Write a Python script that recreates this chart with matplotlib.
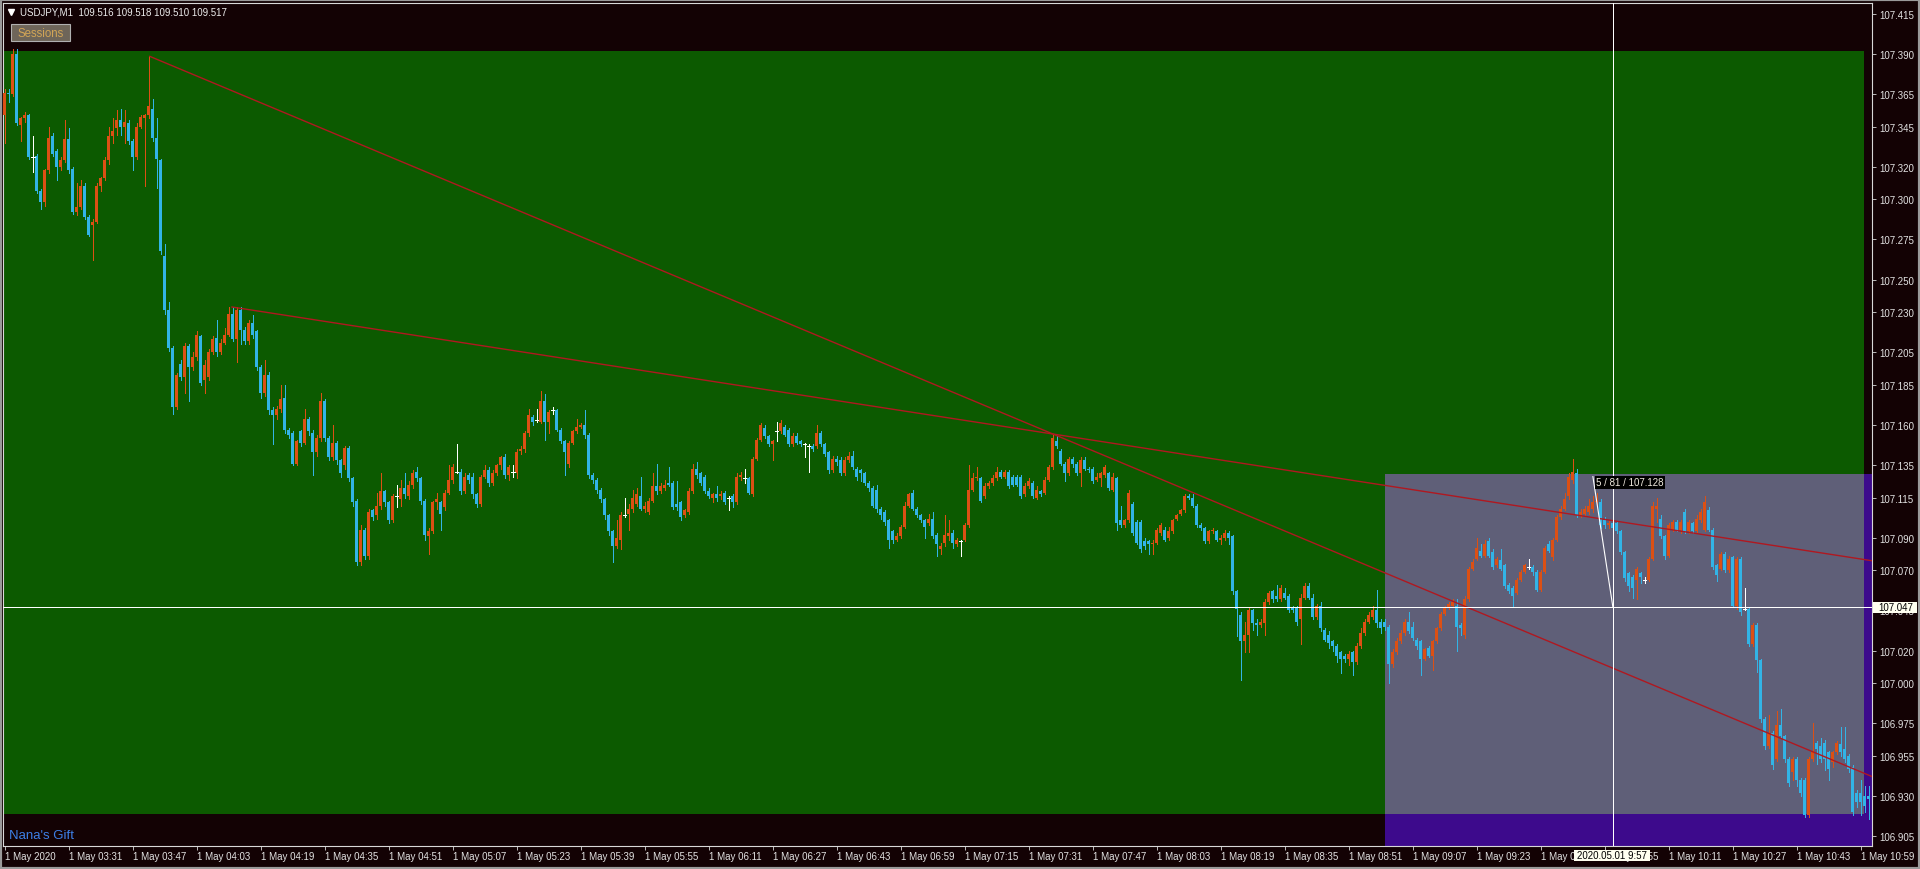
import matplotlib
matplotlib.use("Agg")
import matplotlib.pyplot as plt
from matplotlib.patches import Rectangle
from matplotlib.lines import Line2D
from matplotlib.transforms import blended_transform_factory
import numpy as np

plt.rcParams['font.family'] = ['Liberation Sans', 'DejaVu Sans']

# ---------------- data ----------------
header_text = "USDJPY,M1  109.516 109.518 109.510 109.517"
price_base = 107.0
point = 0.001

# OHLC of the M1 bars, in points above 107.000 (bar 0 = 1 May 03:15)
opens = [
 352,366,365,390,346,350,352,326,327,305, 298,318,339,330,320,324,337,319,292,295,
 308,289,284,286,308,313,324,339,344,349, 345,347,336,326,345,350,352,356,338,324,
 265,231,208,171,198,190,209,196,202,215, 188,190,205,214,205,211,216,229,213,231,
 219,212,223,218,196,180,191,169,166,170, 177,157,155,136,156,149,164,155,143,152,
 175,152,140,149,138,135,146,127,113,75, 95,79,107,104,110,119,112,101,116,114,
 121,116,123,131,127,113,91,94,112,112, 109,118,126,131,131,119,129,128,117,111,
 128,132,124,130,135,140,129,131,130,144, 145,155,165,163,162,175,162,169,169,157,
 150,136,149,156,159,160,154,129,126,120, 114,104,94,85,
 89,104,105,108,111,116,108,106,113,122, 119,121,124,124,111,112,104,106,119,133,
 130,128,119,115,117,116,118,115,116,112, 128,127,127,117,139,151,158,153,148,156,
 156,159,157,148,153,150,148,147,147,147, 155,148,143,132,139,138,130,138,141,133,
 132,130,124,121,120,108,106,101,94,89, 91,97,110,118,108,104,101,99,102,92,
 83,87,91,93,86,88,89,98,120,127, 127,116,122,124,127,131,128,131,128,128,
 128,117,122,124,115,119,118,126,134,150, 144,136,130,139,136,130,138,133,133,126,
 127,129,130,120,127,101,98,101,111,100, 100,88,88,86,87,93,95,90,94,102,
 105,107,116,115,110,98,96,88,94,94, 89,90,93,91,57,
 42,26,30,45,37,36,37,50,57,54, 52,56,54,47,47,40,53,60,53,41,
 48,33,30,26,23,19,17,15,19,13, 23,31,38,41,45,38,38,35,12,19,
 26,31,38,35,27,26,15,22,17,26, 34,43,47,48,48,36,30,52,71,77,
 82,79,88,81,73,76,73,61,59,56, 64,69,72,72,69,58,69,86,78,89,
 103,108,116,126,130,104,105,106,108,112, 112,101,98,99,99,94,81,68,66,64,
 68,64,64,77,108,102,91,79,95,100, 95,106,94,99,94,101,95,107,95,73,
 71,80,70,78,48,77,46,46,24,36, 14,-22,-39,-31,-47,-26,-33,-47,-55,-47,
 -60,-60,-82,-47,-37,-39,-37,-43,-49,-43, -38,-41,-45,-52,-68,-68,-70,-70]
highs = [
 368,368,393,393,351,354,353,339,328,306, 319,345,341,331,326,349,344,320,310,312,
 310,290,288,310,314,326,345,350,355,356, 355,349,337,347,352,353,389,362,350,325,
 272,236,209,192,200,211,210,205,218,216, 200,207,215,225,213,220,233,233,233,233,
 221,225,228,219,197,200,193,171,172,185, 185,158,156,151,157,170,165,157,154,180,
 176,153,160,150,139,147,147,128,114,98, 96,108,108,118,130,120,113,117,123,126,
 130,125,132,134,128,114,96,113,118,113, 120,135,136,148,133,130,130,130,118,129,
 135,134,132,136,141,142,135,135,145,147, 156,170,166,170,181,179,169,171,170,158,
 151,150,157,164,161,169,155,130,127,121, 115,105,95,101,
 106,115,111,120,121,128,112,115,130,136, 124,126,134,125,125,113,108,121,136,137,
 131,129,121,118,122,119,119,116,117,130, 131,133,128,140,152,161,160,154,151,162,
 163,160,158,155,155,151,149,148,148,160, 156,149,144,141,141,140,140,143,144,134,
 133,131,125,122,123,109,107,102,95,93, 98,112,118,120,109,105,102,105,106,93,
 87,104,101,95,90,89,99,135,130,134, 128,124,125,129,134,132,132,132,129,129,
 129,124,127,125,122,120,128,135,154,153, 145,137,140,140,137,140,140,134,134,130,
 131,135,131,130,128,110,102,120,112,101, 101,90,89,89,96,99,97,97,102,105,
 108,117,117,117,111,99,97,95,96,95, 92,95,94,92,58,
 44,38,47,46,40,40,52,57,58,61, 61,59,55,48,48,55,62,62,55,49,
 50,34,32,27,24,20,18,20,20,25, 34,40,44,48,58,40,40,36,21,28,
 33,40,44,38,28,27,22,23,27,35, 44,48,50,52,52,37,54,72,77,90,
 86,89,90,83,78,83,74,62,60,65, 70,74,77,73,70,70,85,88,90,104,
 110,118,130,139,133,108,110,114,116,118, 114,103,101,100,100,95,82,69,67,72,
 69,66,78,112,115,104,92,99,101,101, 101,108,101,100,104,108,116,109,96,74,
 81,81,79,79,78,78,59,47,37,37, 15,-21,-20,-30,-17,-16,-32,-46,-46,-46,
 -59,-59,-46,-25,-36,-34,-35,-42,-42,-36, -27,-27,-44,-51,-66,-60,-64,-64]
lows = [
 335,360,364,346,336,348,325,317,304,294, 296,316,327,312,318,323,316,291,290,294,
 288,277,262,285,305,312,322,335,340,340, 335,334,318,325,344,308,350,336,307,266,
 229,206,167,170,188,180,175,194,200,185, 180,188,204,203,204,210,215,212,199,210,
 210,210,214,194,177,178,167,148,164,168, 155,152,135,135,147,148,154,129,141,150,
 150,138,138,136,128,133,125,110,73,73, 77,77,101,102,108,110,99,100,109,110,
 115,114,121,125,111,89,80,93,108,95, 107,117,124,130,117,118,124,115,109,110,
 127,122,123,129,133,127,126,128,127,142, 143,153,160,162,161,151,155,167,156,149,
 129,134,148,155,158,152,127,124,118,112, 102,92,75,84,
 83,103,95,106,110,107,106,105,112,117, 118,120,122,108,107,101,103,105,118,127,
 123,118,115,112,113,114,111,107,109,111, 126,124,117,116,138,150,152,147,138,150,
 155,153,147,147,148,147,140,131,144,146, 147,141,130,131,135,129,129,137,133,126,
 125,123,119,109,106,102,98,84,87,88, 90,96,109,107,103,100,90,98,90,79,
 80,85,89,84,85,79,88,97,119,126, 112,115,121,123,126,127,127,121,122,122,
 115,116,121,115,114,116,117,125,133,146, 135,125,129,134,129,122,132,131,124,125,
 122,128,120,119,95,97,97,100,92,86, 81,83,80,80,86,92,88,89,93,101,
 104,106,114,109,97,95,87,87,93,88, 86,89,86,55,29,
 2,19,19,33,30,35,30,49,50,51, 51,52,44,44,36,24,52,52,40,40,
 32,26,22,20,13,6,13,11,5,12, 22,30,37,40,35,31,33,0,10,18,
 25,30,31,27,21,5,14,16,8,25, 33,42,46,47,20,30,28,51,70,76,
 78,78,78,71,72,70,59,56,47,55, 63,68,71,67,57,57,68,81,76,88,
 102,107,114,124,103,103,104,105,106,110, 96,96,96,94,93,80,63,57,53,52,
 62,62,63,76,100,90,77,78,94,94, 93,93,93,93,93,100,94,94,71,63,
 70,69,69,47,46,42,45,23,23,7, -24,-41,-40,-53,-48,-34,-49,-64,-60,-64,
 -70,-83,-83,-48,-50,-49,-54,-60,-52,-44, -45,-49,-55,-82,-77,-82,-80,-84]
closes = [
 366,365,390,347,350,352,326,326,305,298, 318,338,328,320,324,337,318,292,295,308,
 289,278,286,308,313,324,339,342,349,345, 348,336,326,345,351,352,358,338,325,268,
 231,208,171,191,190,209,196,202,216,186, 197,205,213,205,211,216,229,213,231,219,
 212,223,216,196,180,191,169,166,170,176, 157,154,136,150,149,164,156,143,152,175,
 152,140,149,138,130,146,127,112,75,95, 79,106,103,110,119,112,101,116,116,121,
 117,123,130,127,113,92,94,112,114,105, 118,126,134,131,119,128,126,117,111,128,
 132,124,130,135,140,129,134,131,143,145, 155,166,162,163,175,162,168,169,157,150,
 143,149,156,159,160,154,129,126,120,114, 104,94,85,90,
 104,104,108,115,117,108,110,113,122,119, 122,123,123,109,109,103,107,119,133,129,
 124,119,116,117,115,117,112,115,112,128, 129,127,118,139,151,160,153,148,150,156,
 161,154,148,153,149,148,148,147,145,155, 148,142,132,139,137,130,138,141,134,128,
 130,124,121,110,108,104,100,89,89,91, 97,110,117,108,104,101,97,102,91,86,
 85,92,93,87,89,88,98,120,127,128, 113,122,124,127,131,128,131,122,123,123,
 116,122,125,116,120,117,126,134,152,147, 136,130,139,136,130,138,133,132,125,128,
 130,134,121,128,99,98,101,118,93,87, 83,85,86,87,95,98,89,94,101,104,
 107,116,115,110,98,96,88,94,95,89, 90,93,90,57,46,
 26,30,45,37,36,38,50,56,52,52, 59,53,45,45,38,53,60,53,41,48,
 34,27,25,23,17,15,15,18,13,23, 31,38,42,45,37,34,35,12,19,26,
 31,38,32,28,23,15,21,17,26,34, 43,47,49,50,35,34,52,71,75,84,
 79,86,79,72,77,71,60,57,54,64, 69,73,72,69,58,69,84,82,89,103,
 108,114,128,131,104,106,108,110,112,113, 98,98,99,96,94,81,65,60,59,71,
 66,64,77,110,110,91,79,98,100,95, 100,94,100,94,102,106,112,95,72,67,
 80,70,77,48,77,44,46,24,36,14, -22,-39,-31,-51,-26,-33,-47,-62,-47,-60,
 -68,-82,-47,-43,-41,-47,-47,-53,-43,-37, -43,-47,-53,-80,-74,-74,-76,-72]

time_tick_bars = [0, 16, 32, 48, 64, 80, 96, 112, 128, 144, 160, 176, 192, 208, 224,
                  240, 256, 272, 288, 304, 320, 336, 352, 368, 384, 400, 416, 432, 448, 464]
time_tick_labels = ["1 May 2020", "1 May 03:31", "1 May 03:47", "1 May 04:03", "1 May 04:19",
                    "1 May 04:35", "1 May 04:51", "1 May 05:07", "1 May 05:23", "1 May 05:39",
                    "1 May 05:55", "1 May 06:11", "1 May 06:27", "1 May 06:43", "1 May 06:59",
                    "1 May 07:15", "1 May 07:31", "1 May 07:47", "1 May 08:03", "1 May 08:19",
                    "1 May 08:35", "1 May 08:51", "1 May 09:07", "1 May 09:23", "1 May 09:39",
                    "1 May 09:55", "1 May 10:11", "1 May 10:27", "1 May 10:43", "1 May 10:59"]
price_ticks = [107.415, 107.390, 107.365, 107.345, 107.320, 107.300, 107.275, 107.250,
               107.230, 107.205, 107.185, 107.160, 107.135, 107.115, 107.090, 107.070,
               107.045, 107.020, 107.000, 106.975, 106.955, 106.930, 106.905]

# session boxes (bar index span, price span)
session_start = [-5.0, 345.0, 345.0]
session_end = [464.8, 470.0, 464.8]
session_low = [106.9188, 106.80, 106.9188]
session_high = [107.3919, 107.1297, 107.1297]
session_colors = ["#0c5a00", "#3d0a8c", "#5f5f78"]

# trend lines: anchor points (bar, price), drawn as rays to the right
trend_bar_a = [36.05, 56.6]
trend_price_a = [107.3887, 107.2332]
trend_bar_b = [262.0, 262.0]
trend_price_b = [107.1544, 107.1544]

# crosshair / measurement
cross_bar = 402
cross_price = 107.047
cross_time_label = "2020.05.01 9:57"
measure_bar = [397.0, 402.0]
measure_price = [107.128, 107.047]
measure_label = "5 / 81 / 107.128"

# ---------------- style ----------------
BG = "#130204"
UP = "#dc5014"
DN = "#32b4e6"
DOJI = "#ffffff"
AXIS = "#d8d8d8"
TXT = "#e2e2e2"
TREND = "#b01820"
THIN = 0.6

FW, FH = 1920, 870
fig = plt.figure(figsize=(FW / 100, FH / 100), dpi=100, facecolor=BG)
PL, PR, PT_, PB = 3, 1872, 4, 847
ax = fig.add_axes([PL / FW, 1 - PB / FH, (PR - PL) / FW, (PB - PT_) / FH])
ax.set_facecolor(BG)
ax.set_xlim(-0.475, 466.775)
ax.set_ylim(106.8990, 107.4216)

# session rectangles
for x0, x1, lo, hi, col in zip(session_start, session_end, session_low, session_high, session_colors):
    ax.add_patch(Rectangle((x0, lo), x1 - x0, hi - lo, facecolor=col, edgecolor="none",
                           zorder=1, antialiased=False))

# candles
o = price_base + np.array(opens) * point
h = price_base + np.array(highs) * point
l = price_base + np.array(lows) * point
c = price_base + np.array(closes) * point
x = np.arange(len(o))
up = c > o
dn = c < o
dj = ~(up | dn)
cols = np.where(up, UP, np.where(dn, DN, DOJI))
ax.vlines(x, l, h, colors=cols, linewidth=THIN, antialiased=False, zorder=3)
body_bottom = np.minimum(o, c)
body_height = np.maximum(np.abs(c - o), 0.0008)
nd = ~dj
ax.bar(x[nd], body_height[nd], bottom=body_bottom[nd], width=0.74, color=cols[nd],
       linewidth=0, antialiased=False, zorder=4)
ax.hlines(c[dj], x[dj] - 0.4, x[dj] + 0.4, colors=DOJI, linewidth=THIN,
          antialiased=False, zorder=4)

# trend lines
x_end = 470.0
for ba, pa, bb, pb in zip(trend_bar_a, trend_price_a, trend_bar_b, trend_price_b):
    slope = (pb - pa) / (bb - ba)
    ax.plot([ba, x_end], [pa, pa + slope * (x_end - ba)], color=TREND, lw=1.0, zorder=5,
            solid_capstyle="butt")

# crosshair
ax.axvline(cross_bar, color="white", lw=THIN, antialiased=False, zorder=7)
ax.axhline(cross_price, color="white", lw=THIN, antialiased=False, zorder=7)
ax.plot(measure_bar, measure_price, color="white", lw=0.8, zorder=7)
ax.text(measure_bar[0] + 0.8, 107.1244, measure_label, ha="left", va="center", fontsize=7,
        color="#f2ece0", zorder=12,
        bbox=dict(boxstyle="square,pad=0.12", fc="black", ec="none"))

# axes styling
for sp in ax.spines.values():
    sp.set_color(AXIS)
    sp.set_linewidth(0.8)
ax.set_xticks(time_tick_bars)
ax.set_xticklabels(time_tick_labels)
for lbl in ax.get_xticklabels():
    lbl.set_horizontalalignment("left")
ax.set_yticks(price_ticks)
ax.set_yticklabels(["%.3f" % v for v in price_ticks])
ax.tick_params(axis="x", direction="out", length=3, width=THIN, color=AXIS, labelcolor=TXT,
               labelsize=7, pad=0.6, bottom=True, top=False)
ax.tick_params(axis="y", direction="out", length=3, width=THIN, color=AXIS, labelcolor=TXT,
               labelsize=7, pad=2.0, left=False, right=True, labelleft=False, labelright=True)

# crosshair value labels (opaque boxes drawn over the axis labels, as in the terminal)
tr_y = blended_transform_factory(ax.transAxes, ax.transData)
ax.add_patch(Rectangle((1.0006, cross_price - 0.0034), 0.0235, 0.0068, transform=tr_y,
                       facecolor="#fffff0", edgecolor="none", clip_on=False, zorder=20))
ax.text(1.0035, cross_price, "%.3f" % cross_price, transform=tr_y, ha="left", va="center",
        fontsize=7, color="black", zorder=21, clip_on=False)
tr_x = blended_transform_factory(ax.transData, ax.transAxes)
ax.add_patch(Rectangle((cross_bar - 9.6, -0.0178), 18.8, 0.0131, transform=tr_x,
                       facecolor="#fffff0", edgecolor="none", clip_on=False, zorder=20))
ax.text(cross_bar - 0.2, -0.0112, cross_time_label, transform=tr_x, ha="center", va="center",
        fontsize=7, color="black", zorder=21, clip_on=False)

# header, button, footer text
fig.text(20 / FW, 1 - 12.7 / FH, header_text, ha="left", va="center", color="#ececec",
         fontsize=7.0)
fig.add_artist(Line2D([11 / FW], [1 - 12.5 / FH], marker="v", color="white", markersize=4.2,
                      linestyle="none", transform=fig.transFigure))
fig.add_artist(Rectangle((10.7 / FW, 1 - 41.7 / FH), 59.3 / FW, 16.7 / FH,
                         transform=fig.transFigure, facecolor="#6e6559", edgecolor="#b0b0b0",
                         linewidth=0.8))
fig.text(40.4 / FW, 1 - 33.6 / FH, "Sessions", ha="center", va="center", color="#d2a556",
         fontsize=8.3)
fig.text(9 / FW, 1 - 836 / FH, "Nana's Gift", ha="left", va="center", color="#3d7fe6",
         fontsize=9.5)

# window border
fig.add_artist(Rectangle((0, 0), 1, 1, transform=fig.transFigure, fill=False,
                         edgecolor="#9a9a9a", linewidth=3.0))

fig.savefig("out.png", dpi=100, facecolor=BG)
